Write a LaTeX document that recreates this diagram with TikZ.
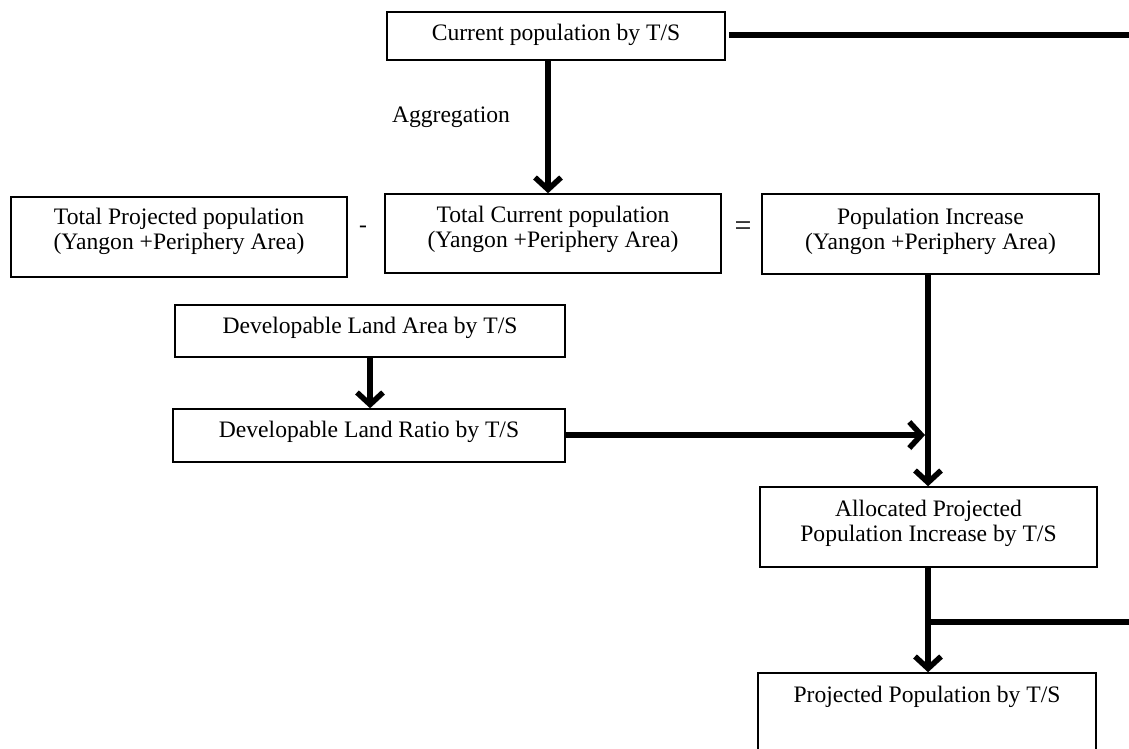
\documentclass[tikz,border=0pt]{standalone}
\usepackage{fontspec}
\setmainfont{Liberation Serif}
\usetikzlibrary{arrows.meta}
\tikzset{
  box/.style={draw=black, line width=1.6pt, rectangle, inner sep=0pt, fill=white},
  lbl/.style={inner sep=0pt, align=center, font=\fontsize{23.6}{25}\selectfont},
  thick line/.style={line width=5.5pt, draw=black,
    preaction={draw=gray!35, transform canvas={shift={(1.5pt,-2.5pt)}}}},
  arr/.style={thick line, -{Straight Barb[length=12pt,width=26pt]}}
}
\begin{document}
\begin{tikzpicture}[x=1pt,y=-1pt]
\useasboundingbox (0,0) rectangle (1129,749);
\clip (0,0) rectangle (1129,749);
\fill[white] (0,0) rectangle (1129,749);

% boxes
\node[box, minimum width=338pt, minimum height=48pt] (cur) at (556,36) {};
\node[lbl] (curt) at (556,35) {Current population by T/S};

\node[box, minimum width=336pt, minimum height=80pt] (tproj) at (179,237) {};
\node[lbl] (tprojt) at (179,231.5) {Total Projected population\\(Yangon +Periphery Area)};

\node[box, minimum width=336pt, minimum height=79pt] (tcur) at (553,233.5) {};
\node[lbl] (tcurt) at (553,229.5) {Total Current population\\(Yangon +Periphery Area)};

\node[box, minimum width=337pt, minimum height=80pt] (popinc) at (930.5,234) {};
\node[lbl] (popinct) at (930.5,231) {Population Increase\\(Yangon +Periphery Area)};

\node[box, minimum width=390pt, minimum height=52pt] (dla) at (370,331) {};
\node[lbl] (dlat) at (370,328) {Developable Land Area by T/S};

\node[box, minimum width=392pt, minimum height=53pt] (dlr) at (369,435.5) {};
\node[lbl] (dlrt) at (369,432) {Developable Land Ratio by T/S};

\node[box, minimum width=337pt, minimum height=80pt] (alloc) at (928.5,527) {};
\node[lbl] (alloct) at (928.5,523) {Allocated Projected\\Population Increase by T/S};

\node[box, minimum width=338pt, minimum height=130pt] (proj) at (927,738) {};
\node[lbl] (projt) at (927,697) {Projected Population by T/S};

% operators and label
\node[lbl] (minus) at (363,229) {-};
\node[lbl, font=\fontsize{30}{30}\selectfont] (equals) at (743,229) {=};
\node[lbl] (agg) at (451,117) {Aggregation};

% connector helper coordinates
\coordinate (r1) at (1129,35);
\coordinate (vx) at (928,0);
\coordinate (j1) at (928,435);
\coordinate (j2) at (928,622);
\coordinate (r2) at (1129,622);

% connectors
\draw[thick line] ([xshift=3pt]cur.east |- r1) -- (r1);
\draw[arr] ([xshift=-8pt]cur.south) -- ([xshift=-5pt]tcur.north);
\draw[arr] (dla.south) -- (dla.south |- dlr.north);
\draw[arr] (popinc.south -| vx) -- (alloc.north -| vx);
\draw[arr] (dlr.east |- j1) -- ([xshift=-3pt]j1);
\draw[arr] (alloc.south -| vx) -- (proj.north -| vx);
\draw[thick line] (j2) -- (r2);
\end{tikzpicture}
\end{document}
